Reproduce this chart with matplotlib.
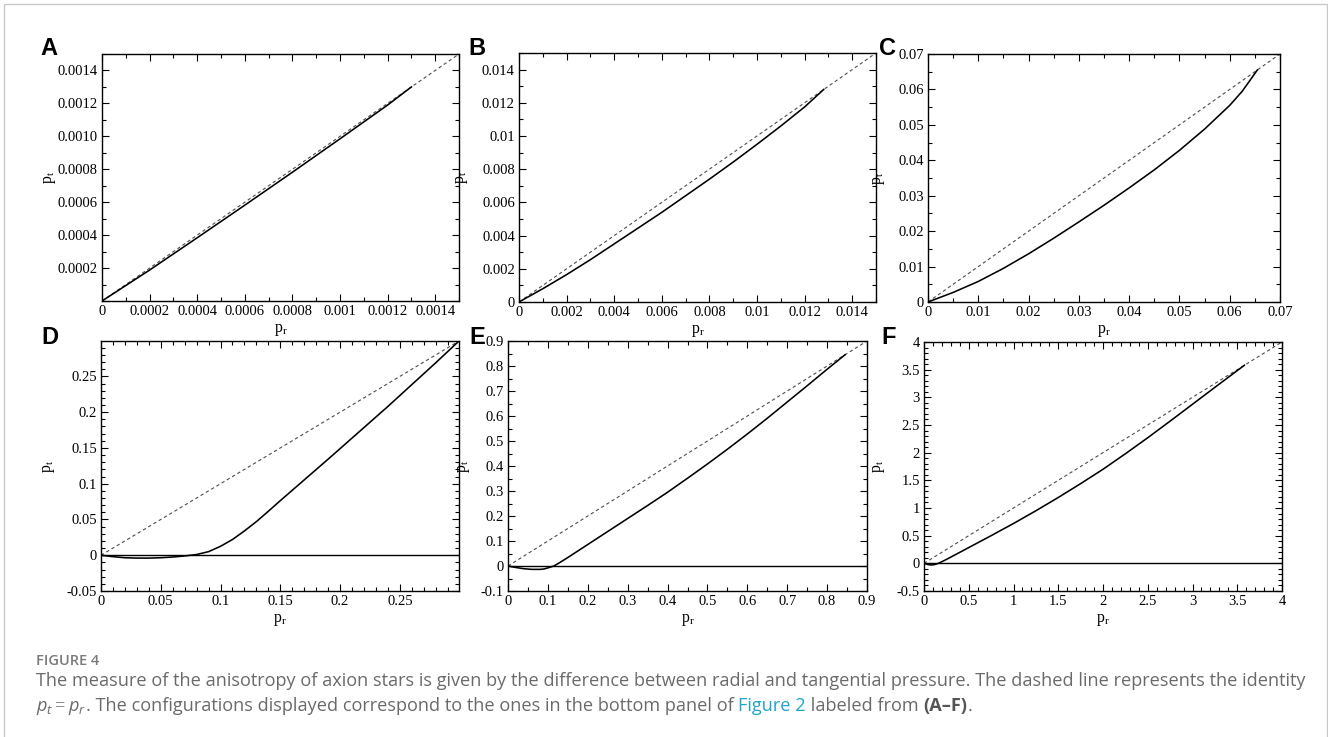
import matplotlib
matplotlib.use("Agg")
import matplotlib.pyplot as plt
from matplotlib.ticker import MultipleLocator, FuncFormatter
from matplotlib.patches import Rectangle

# ---- data (p_r, p_t) ----
A_pr = [0, 0.0001, 0.0002, 0.0004, 0.0006, 0.0008, 0.001, 0.0012, 0.0013]
A_pt = [0, 0.000094, 0.000188, 0.000384, 0.000582, 0.000782, 0.000985, 0.00119, 0.0013]

B_pr = [0, 0.001, 0.002, 0.003, 0.004, 0.005, 0.006, 0.007, 0.008, 0.009, 0.01, 0.011, 0.012, 0.0128]
B_pt = [0, 0.0008, 0.00165, 0.00255, 0.0035, 0.00445, 0.0054, 0.0064, 0.0074, 0.00843,
        0.0095, 0.0106, 0.01175, 0.0128]

C_pr = [0, 0.005, 0.01, 0.015, 0.02, 0.025, 0.03, 0.035, 0.04, 0.045, 0.05, 0.055, 0.06, 0.0625, 0.0655]
C_pt = [0, 0.0027, 0.0058, 0.0095, 0.0136, 0.018, 0.0226, 0.0273, 0.0322, 0.0373, 0.0428,
        0.0488, 0.0555, 0.0595, 0.0655]

D_pr = [0, 0.01, 0.02, 0.03, 0.04, 0.05, 0.06, 0.07, 0.08, 0.09, 0.1, 0.11, 0.12, 0.13,
        0.14, 0.15, 0.16, 0.17, 0.18, 0.19, 0.2, 0.22, 0.24, 0.26, 0.28, 0.2995]
D_pt = [0, -0.002, -0.0035, -0.004, -0.004, -0.0035, -0.0025, -0.001, 0.001, 0.005, 0.0125,
        0.022, 0.034, 0.047, 0.0615, 0.0763, 0.0908, 0.1053, 0.1198, 0.1343, 0.149,
        0.1785, 0.208, 0.2385, 0.269, 0.2995]

E_pr = [0, 0.02, 0.04, 0.06, 0.08, 0.09, 0.1, 0.115, 0.13, 0.15, 0.175, 0.2, 0.25, 0.3,
        0.35, 0.4, 0.45, 0.5, 0.55, 0.6, 0.65, 0.7, 0.75, 0.8, 0.845]
E_pt = [0, -0.006, -0.011, -0.0135, -0.0135, -0.012, -0.0075, 0, 0.014, 0.034, 0.06,
        0.086, 0.138, 0.19, 0.242, 0.295, 0.351, 0.408, 0.467, 0.528, 0.591, 0.656,
        0.721, 0.787, 0.845]

F_pr = [0, 0.04, 0.08, 0.12, 0.16, 0.2, 0.25, 0.5, 0.75, 1, 1.25, 1.5, 1.75, 2, 2.25,
        2.5, 2.75, 3, 3.25, 3.58]
F_pt = [0, -0.02, -0.03, -0.022, 0, 0.03, 0.07, 0.285, 0.5, 0.72, 0.95, 1.19, 1.44, 1.7,
        1.98, 2.27, 2.57, 2.875, 3.18, 3.58]

letters = ["A", "B", "C", "D", "E", "F"]
xlims = [(0, 0.0015), (0, 0.015), (0, 0.07), (0, 0.2995), (0, 0.9), (0, 4)]
ylims = [(0, 0.0015), (0, 0.015), (0, 0.07), (-0.05, 0.2995), (-0.1, 0.9), (-0.5, 4)]
majors = [0.0002, 0.002, 0.01, 0.05, 0.1, 0.5]
minors = [0.0001, 0.001, 0.005, 0.01, 0.05, 0.1]
series = [(A_pr, A_pt), (B_pr, B_pt), (C_pr, C_pt), (D_pr, D_pt), (E_pr, E_pt), (F_pr, F_pt)]

# ---- layout (pixels) ----
W, H = 1328, 737
boxes = [(102, 459, 54, 301), (519, 876, 53, 302), (928, 1280, 54, 302),
         (101, 459, 341, 591), (508, 867, 341, 591), (924, 1282, 342, 591)]
ylab_off = [44, 49, 41, 44, 36, 37]
letter_pos = [(40, 37), (468, 37), (879, 37), (41, 326), (469, 326), (881, 326)]

plt.rcParams["font.family"] = "Liberation Serif"
plt.rcParams["mathtext.fontset"] = "custom"
plt.rcParams["mathtext.rm"] = "Liberation Serif"
plt.rcParams["mathtext.it"] = "Open Sans:italic"

fig = plt.figure(figsize=(W / 100, H / 100), dpi=100)

def gfmt(v, pos):
    return "%g" % round(v, 10)

def afmt_y(v, pos):
    if abs(v) < 1e-12:
        return ""
    return "%.4f" % v

for i, (l, r, t, b) in enumerate(boxes):
    ax = fig.add_axes([l / W, 1 - b / H, (r - l) / W, (b - t) / H])
    xs, ys = series[i]
    lo, hi = xlims[i]
    ax.plot([lo, hi], [lo, hi], color="#4d4d4d", lw=0.8, ls=(0, (3, 2.5)))
    if i >= 3:
        ax.axhline(0, color="black", lw=1.0)
    ax.plot(xs, ys, color="black", lw=1.15)
    ax.set_xlim(*xlims[i])
    ax.set_ylim(*ylims[i])
    for a in (ax.xaxis, ax.yaxis):
        a.set_major_locator(MultipleLocator(majors[i]))
        a.set_minor_locator(MultipleLocator(minors[i]))
    ax.xaxis.set_major_formatter(FuncFormatter(gfmt))
    ax.yaxis.set_major_formatter(FuncFormatter(afmt_y if i == 0 else gfmt))
    ax.tick_params(which="both", direction="in", top=True, right=True,
                   labelsize=10.5, pad=3, width=0.8)
    ax.tick_params(which="major", length=5)
    ax.tick_params(which="minor", length=3)
    for s in ax.spines.values():
        s.set_linewidth(1.0)
    ax.set_xlabel(r"$\mathrm{p_r}$", fontsize=11.5)
    ax.set_ylabel(r"$\mathrm{p_t}$", fontsize=11.5)
    ax.xaxis.set_label_coords(0.5, -21 / (b - t))
    ax.yaxis.set_label_coords(-ylab_off[i] / (r - l), 0.5)
    lx, ly = letter_pos[i]
    fig.text(lx / W, 1 - ly / H, letters[i], ha="left", va="top",
             fontsize=17, fontweight="bold", family="Liberation Sans")

# frame around the whole figure
fig.patches.append(Rectangle((4 / W, -0.05), 1323 / W, 1 - 4 / H + 0.05,
                             transform=fig.transFigure, fill=False,
                             edgecolor="#c8c8c8", lw=1.0))

# caption
gray = "#6a6a6a"
cap_x = 36 / W
fig.text(cap_x, 1 - 665 / H, "FIGURE 4", family="Open Sans", fontweight="semibold",
         fontsize=10.5, color="#7a7a7a", va="baseline")
fig.text(cap_x, 1 - 686 / H,
         "The measure of the anisotropy of axion stars is given by the difference between "
         "radial and tangential pressure. The dashed line represents the identity",
         family="Open Sans", fontsize=13.1, color=gray, va="baseline")

pieces = [(r"$p_t = p_r$", gray, "normal"),
          (". The configurations displayed correspond to the ones in the bottom panel of ", gray, "normal"),
          ("Figure 2", "#1fa5c8", "normal"),
          (" labeled from ", gray, "normal"),
          ("(A\u2013F)", "#555555", "bold"),
          (".", gray, "normal")]
renderer = fig.canvas.get_renderer()
x = cap_x
for txt, col, wt in pieces:
    tt = fig.text(x, 1 - 711 / H, txt, family="Open Sans", fontsize=13.1, color=col,
                  fontweight=wt, va="baseline")
    bb = tt.get_window_extent(renderer)
    x = bb.x1 / W

fig.savefig("out.png", dpi=100)
